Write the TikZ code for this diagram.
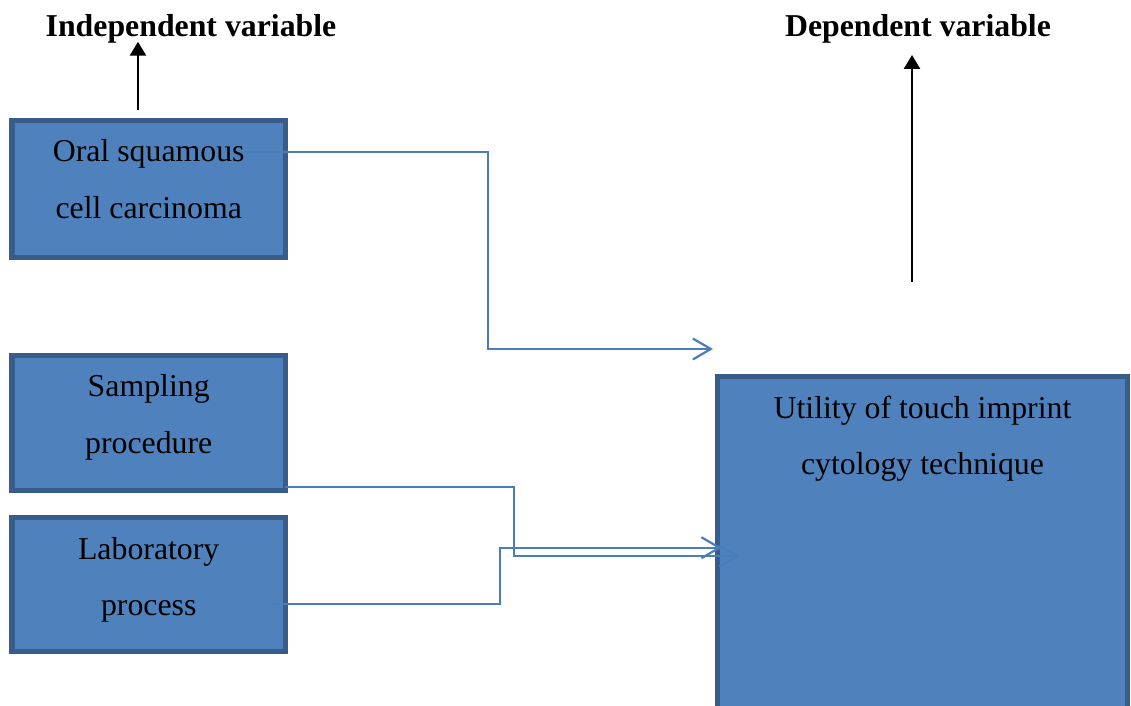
\documentclass[tikz,border=0pt]{standalone}
\usepackage{fontspec}
\setmainfont{Liberation Serif}
\usetikzlibrary{positioning, arrows.meta, calc}
\definecolor{boxfill}{RGB}{79,129,189}
\definecolor{boxline}{RGB}{56,93,138}
\definecolor{linkblue}{RGB}{74,126,187}

\begin{document}
\begin{tikzpicture}[x=0.5pt, y=-0.5pt,
       font=\fontsize{15.9}{28.3}\selectfont,
       varbox/.style={draw=boxline, line width=2.6pt, fill=boxfill, text=black,
                      align=flush center, inner sep=0pt, outer sep=0pt, text height=20.7pt},
       hdr/.style={font=\fontsize{15.9}{19}\selectfont\bfseries, inner sep=0pt},
       link/.style={draw=linkblue, line width=1.1pt,
                    -{Straight Barb[length=9pt, width=10.5pt]}},
       up/.style={line width=1.3pt, -{Triangle[length=7pt, width=8pt]}}]
     \useasboundingbox (0,0) rectangle (1131,706);
     \node[varbox, text width=136.75pt, text depth=47.7pt] (oscc) at (148.7,189)
        {Oral squamous\\cell carcinoma};
     \node[varbox, text width=136.75pt, text depth=46.9pt, below=48.95pt of oscc] (samp)
        {Sampling\\procedure};
     \node[varbox, text width=136.75pt, text depth=46.2pt, below=13.6pt of samp] (lab)
        {Laboratory\\process};
     \node[varbox, text width=204.9pt, text depth=154.7pt] (util) at (922.5,552)
        {Utility of touch imprint\\cytology technique};
     \node[hdr, anchor=base] (indep) at (191,37) {Independent variable};
     \node[hdr, anchor=base] (dep) at (918,37) {Dependent variable};
     % links into the dependent variable
     \coordinate (c1end) at (713,349);
     \draw[link] ([xshift=-20.2pt, yshift=18.5pt]oscc.east) -- ++(243,0) |- (c1end);
     \draw[link] ([yshift=-32.1pt]samp.east) -- ++(228.6,0) |- ([shift={(22,4)}]util.west);
     \draw[link] ([xshift=-6.7pt, yshift=-9.75pt]lab.east) -- ++(228,0) |- ([shift={(4,-4.3)}]util.west);
     % arrows up to the headings
     \draw[up] ([xshift=-5.35pt, yshift=5.3pt]oscc.north) coordinate (ia)
        -- ($(indep.base -| ia)+(0,4.7)$);
     \coordinate (dfoot) at (912,282);
     \draw[up] (dfoot) -- ($(dep.base -| dfoot)+(0,18)$);
   \end{tikzpicture}
\end{document}
